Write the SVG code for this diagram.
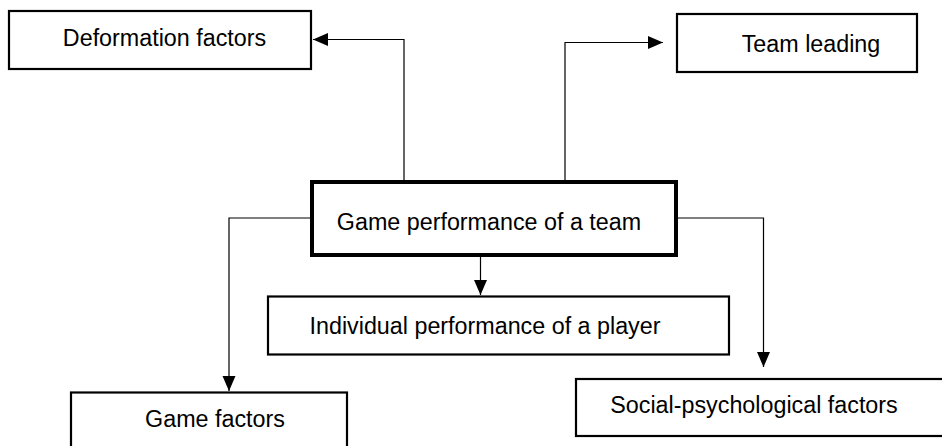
<svg xmlns="http://www.w3.org/2000/svg" width="942" height="446" viewBox="0 0 942 446">
  <defs>
    <marker id="arrow" markerUnits="userSpaceOnUse" markerWidth="16" markerHeight="14" refX="15" refY="6.5" orient="auto">
      <path d="M0,0 L15,6.5 L0,13 Z" fill="#000"/>
    </marker>
    <style>
      .box { fill: #fff; stroke: #000; stroke-width: 2.2; }
      .main { fill: #fff; stroke: #000; stroke-width: 4; }
      .label { font-family: "Liberation Sans", Arial, sans-serif; font-size: 23.3px; fill: #000; text-anchor: middle; }
      .link { fill: none; stroke: #000; stroke-width: 1.2; marker-end: url(#arrow); }
    </style>
  </defs>
  <rect width="942" height="446" fill="#fff"/>

  <!-- connectors -->
  <g id="connectors">
    <polyline class="link" points="404,180 404,39.5 313,39.5"/>
    <polyline class="link" points="565,180 565,42.5 663,42.5"/>
    <polyline class="link" points="310,218 229,218 229,391"/>
    <polyline class="link" points="678,218 763.5,218 763.5,367"/>
    <polyline class="link" points="480.5,257 480.5,295"/>
  </g>

  <g id="deformation-factors">
    <rect class="box" x="9" y="11" width="302" height="58"/>
    <text class="label" x="164.5" y="45.5">Deformation factors</text>
  </g>

  <g id="team-leading">
    <rect class="box" x="677" y="14" width="240" height="58"/>
    <text class="label" x="811" y="51.5">Team leading</text>
  </g>

  <g id="game-performance">
    <rect class="main" x="312" y="182" width="364" height="73"/>
    <text class="label" x="489" y="230">Game performance of a team</text>
  </g>

  <g id="individual-performance">
    <rect class="box" x="268" y="296.5" width="461" height="58"/>
    <text class="label" x="485" y="334">Individual performance of a player</text>
  </g>

  <g id="game-factors">
    <rect class="box" x="71" y="392.5" width="276" height="60"/>
    <text class="label" x="215" y="427">Game factors</text>
  </g>

  <g id="social-psychological-factors">
    <rect class="box" x="576" y="379" width="370" height="57"/>
    <text class="label" x="754" y="413">Social-psychological factors</text>
  </g>
</svg>
